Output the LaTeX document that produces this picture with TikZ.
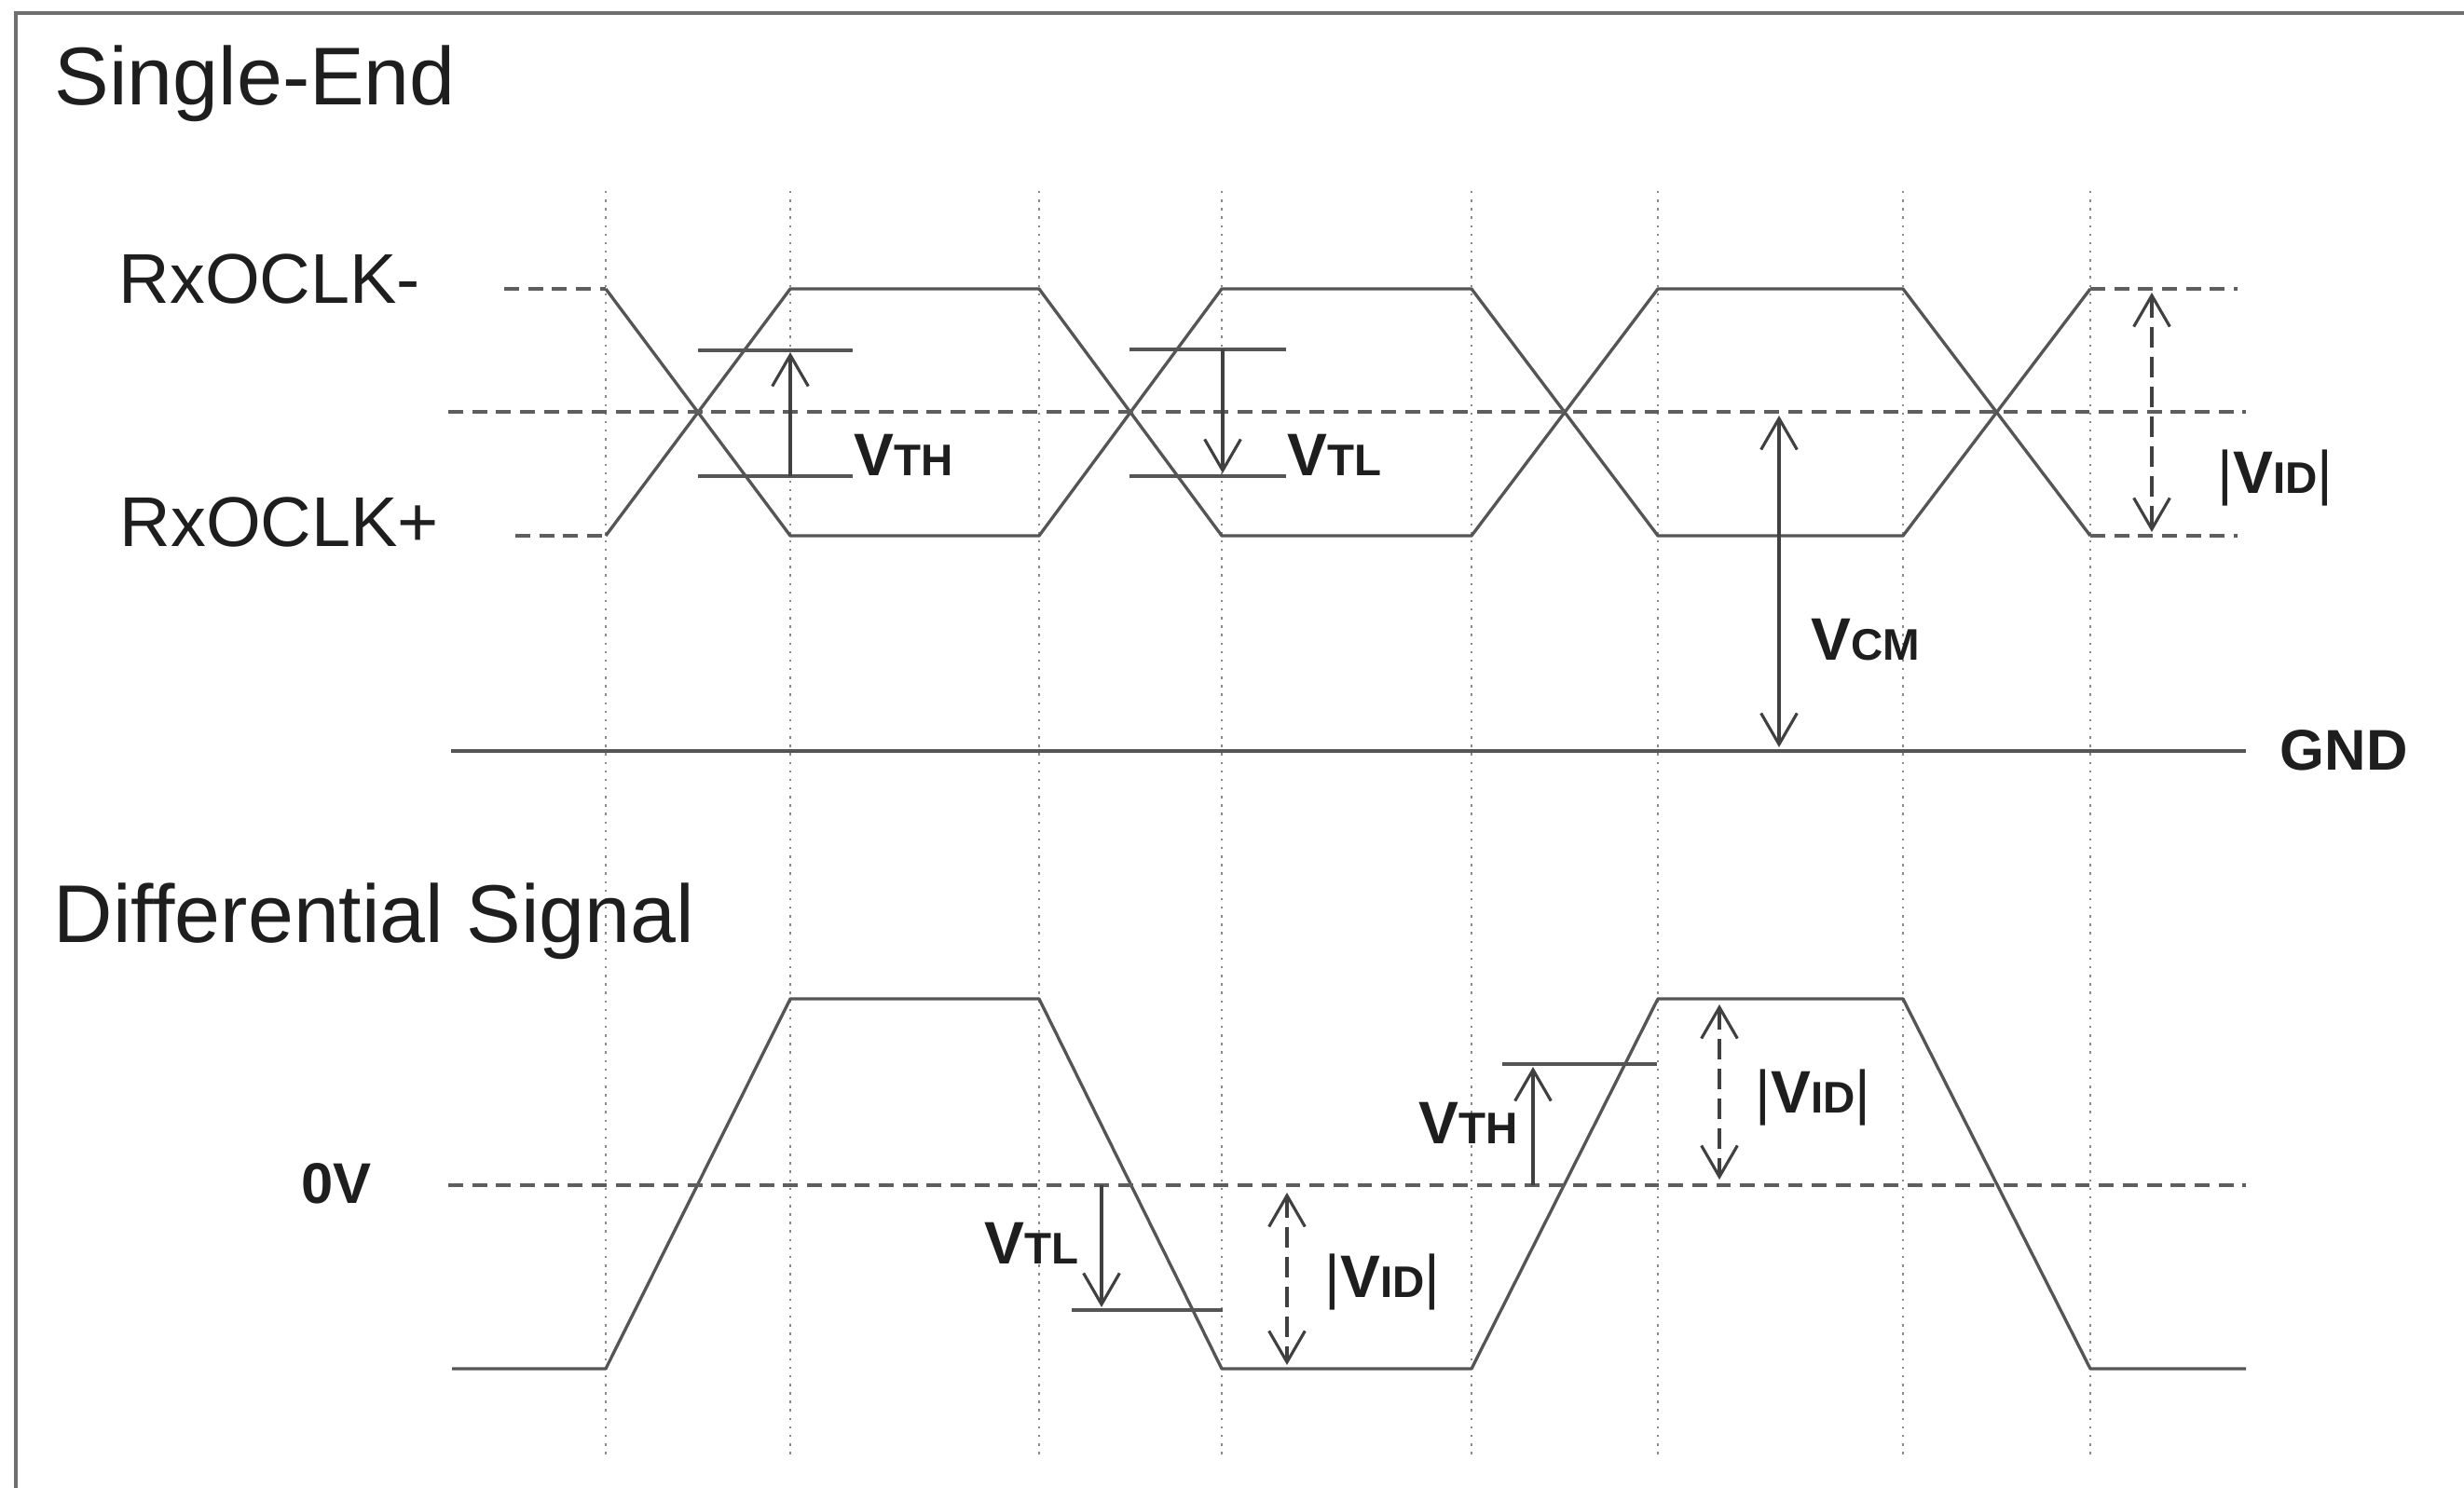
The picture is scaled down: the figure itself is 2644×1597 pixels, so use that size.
\documentclass[tikz,border=0pt]{standalone}
\usepackage{fontspec}
\setmainfont{Liberation Sans}
\usetikzlibrary{arrows.meta}
\definecolor{sigc}{HTML}{555555}
\definecolor{arrc}{HTML}{404040}
\definecolor{dashc}{HTML}{5E5E5E}
\definecolor{gridc}{HTML}{8A8A8A}
\definecolor{txtc}{HTML}{1E1E1E}
\definecolor{framec}{HTML}{6E6E6E}
\newcommand\vsubs[1]{{\bfseries\fontsize{18.3}{20}\selectfont V\fontsize{13.5}{15}\selectfont #1}}
\newcommand\vidlbl{{\fontsize{18.3}{20}\selectfont|{\bfseries V\fontsize{13.5}{15}\selectfont ID}|}}
\begin{document}
\begin{tikzpicture}[x=0.01cm,y=-0.01cm,
  sig/.style={draw=sigc,line width=0.95pt,line join=round},
  hdash/.style={draw=dashc,line width=0.95pt,dash pattern=on 4.5pt off 2.8pt},
  gridline/.style={draw=gridc,line width=0.5pt,dash pattern=on 0.7pt off 1.9pt},
  bar/.style={draw=sigc,line width=0.95pt},
  dimarrow/.style={draw=arrc,line width=0.9pt,-{Straight Barb[length=9.5pt,width=11pt]}},
  ddim/.style={draw=arrc,line width=0.9pt,{Straight Barb[length=9.5pt,width=11pt]}-{Straight Barb[length=9.5pt,width=11pt]},dash pattern=on 6.3pt off 2.8pt},
  sdim/.style={draw=arrc,line width=0.9pt,{Straight Barb[length=9.5pt,width=11pt]}-{Straight Barb[length=9.5pt,width=11pt]}},
  lbl/.style={inner sep=0pt,anchor=base west,text=txtc}]
\useasboundingbox (0,0) rectangle (2644,1597);
\fill[white] (0,0) rectangle (2644,1597);
% frame (top and left edges)
\draw[framec,line width=1pt] (17,1597) -- (17,14) -- (2644,14);
% vertical dotted guide lines
\foreach \x in {650,848,1115,1311,1579,1779,2042,2243}
  \draw[gridline] (\x,205) -- (\x,1562);
% titles
\node[lbl,font=\fontsize{25}{28}\selectfont] (t1) at (58,113) {Single-End};
\node[lbl,font=\fontsize{25}{28}\selectfont] (t2) at (57,1011) {Differential Signal};
\node[lbl,font=\fontsize{21.5}{24}\selectfont] (rm) at (127,326) {RxOCLK-};
\node[lbl,font=\fontsize{21.5}{24}\selectfont] (rp) at (128,587) {RxOCLK+};
\node[lbl,font=\bfseries\fontsize{17.5}{20}\selectfont] (gnd) at (2446,826) {GND};
\node[lbl,font=\bfseries\fontsize{17.5}{20}\selectfont] (zv) at (323,1291) {0V};
% single-ended waveforms
\draw[hdash] (541,310) -- (650,310);
\draw[sig] (650,310) -- (848,575) -- (1115,575) -- (1311,310) -- (1579,310) -- (1779,575) -- (2042,575) -- (2243,310);
\draw[hdash] (2243,310) -- (2401,310);
\draw[hdash] (553,575) -- (650,575);
\draw[sig] (650,575) -- (848,310) -- (1115,310) -- (1311,575) -- (1579,575) -- (1779,310) -- (2042,310) -- (2243,575);
\draw[hdash] (2243,575) -- (2401,575);
\draw[hdash] (481,442) -- (2410,442);
\draw[sig] (484,806) -- (2410,806);
% VTH (single-ended)
\draw[bar] (749,376) -- (915,376);
\draw[bar] (749,511) -- (915,511);
\coordinate (th1a) at (848,511); \coordinate (th1b) at (848,378);
\draw[dimarrow] (th1a) -- (th1b);
\node[lbl] (lth1) at (916,511) {\vsubs{TH}};
% VTL (single-ended)
\draw[bar] (1212,375) -- (1380,375);
\draw[bar] (1212,511) -- (1380,511);
\coordinate (tl1a) at (1312,375); \coordinate (tl1b) at (1312,508);
\draw[dimarrow] (tl1a) -- (tl1b);
\node[lbl] (ltl1) at (1381,511) {\vsubs{TL}};
% VCM
\coordinate (cma) at (1909,446); \coordinate (cmb) at (1909,802);
\draw[sdim] (cma) -- (cmb);
\node[lbl] (lcm) at (1943,708) {\vsubs{CM}};
% |VID| single-ended
\coordinate (vd1a) at (2309,314); \coordinate (vd1b) at (2309,571);
\draw[ddim] (vd1a) -- (vd1b);
\node[lbl] (lvd1) at (2379,529) {\vidlbl};
% differential waveform
\draw[sig] (485,1469) -- (650,1469) -- (848,1072) -- (1115,1072) -- (1311,1469) -- (1579,1469) -- (1779,1072) -- (2042,1072) -- (2243,1469) -- (2410,1469);
\draw[hdash] (481,1272) -- (2410,1272);
% VTL differential
\draw[bar] (1150,1406) -- (1312,1406);
\coordinate (tl2a) at (1182,1272); \coordinate (tl2b) at (1182,1403);
\draw[dimarrow] (tl2a) -- (tl2b);
\node[lbl] (ltl2) at (1056,1356) {\vsubs{TL}};
% VTH differential
\draw[bar] (1612,1142) -- (1778,1142);
\coordinate (th2a) at (1645,1272); \coordinate (th2b) at (1645,1145);
\draw[dimarrow] (th2a) -- (th2b);
\node[lbl] (lth2) at (1522,1227) {\vsubs{TH}};
% |VID| differential (low)
\coordinate (vd2a) at (1381,1280); \coordinate (vd2b) at (1381,1465);
\draw[ddim] (vd2a) -- (vd2b);
\node[lbl] (lvd2) at (1421,1392) {\vidlbl};
% |VID| differential (high)
\coordinate (vd3a) at (1845,1078); \coordinate (vd3b) at (1845,1266);
\draw[ddim] (vd3a) -- (vd3b);
\node[lbl] (lvd3) at (1883,1194) {\vidlbl};
\end{tikzpicture}
\end{document}
